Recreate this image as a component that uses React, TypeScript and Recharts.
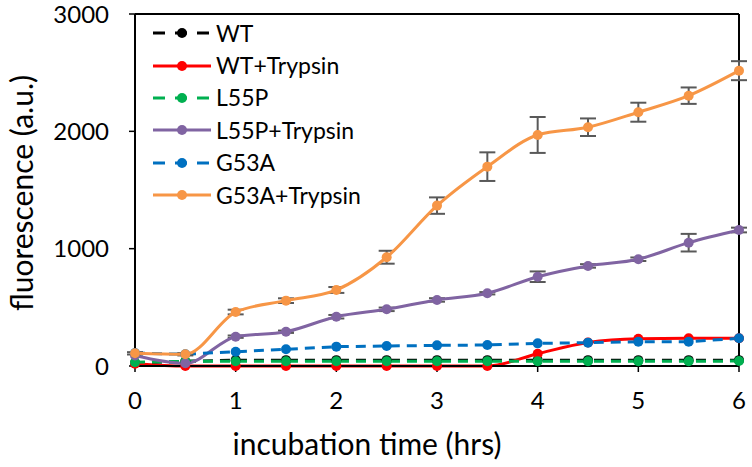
import React from 'react';
import { LineChart, Line, XAxis, YAxis, ErrorBar, ReferenceLine, Legend, Label } from 'recharts';

const times = [0, 0.5, 1, 1.5, 2, 2.5, 3, 3.5, 4, 4.5, 5, 5.5, 6];
const wt = [25, 40, 50, 50, 50, 50, 50, 50, 50, 50, 50, 50, 50];
const wtTrypsin = [20, 0, 0, 0, 0, 0, 0, 0, 105, 200, 232, 236, 236];
const l55p = [32, 40, 40, 40, 40, 40, 40, 40, 40, 40, 40, 40, 42];
const l55pTrypsin = [90, 23, 250, 292, 420, 483, 563, 620, 761, 853, 910, 1051, 1159];
const l55pTrypsinErr = [0, 0, 10, 10, 15, 15, 15, 10, 45, 15, 15, 75, 20];
const g53a = [110, 100, 122, 142, 165, 170, 176, 179, 193, 199, 207, 207, 236];
const g53aTrypsin = [108, 100, 460, 557, 648, 927, 1367, 1699, 1969, 2035, 2163, 2304, 2517];
const g53aTrypsinErr = [10, 10, 20, 20, 25, 55, 70, 122, 153, 75, 81, 70, 81];
const xTicks = [0, 1, 2, 3, 4, 5, 6];
const yTicks = [0, 1000, 2000, 3000];

const data = times.map((t, i) => ({
  t,
  wt: wt[i],
  wtT: wtTrypsin[i],
  l55p: l55p[i],
  l55pT: l55pTrypsin[i],
  l55pTErr: l55pTrypsinErr[i],
  g53a: g53a[i],
  g53aT: g53aTrypsin[i],
  g53aTErr: g53aTrypsinErr[i],
}));

const SERIES = [
  { key: 'wt', name: 'WT', color: '#000000', dash: true },
  { key: 'wtT', name: 'WT+Trypsin', color: '#ff0000', dash: false },
  { key: 'l55p', name: 'L55P', color: '#00b050', dash: true },
  { key: 'l55pT', name: 'L55P+Trypsin', color: '#8064a2', dash: false },
  { key: 'g53a', name: 'G53A', color: '#0070c0', dash: true },
  { key: 'g53aT', name: 'G53A+Trypsin', color: '#f79646', dash: false },
];

const FONT = 'Lato, "Open Sans", sans-serif';

const LegendContent = () => (
  <div style={{ fontFamily: FONT, fontSize: 23, color: '#000' }}>
    {SERIES.map((s) => (
      <div key={s.key} style={{ display: 'flex', alignItems: 'center', height: 32.4 }}>
        <svg width={58} height={12} style={{ display: 'block' }}>
          <line x1={0} y1={6} x2={58} y2={6} stroke={s.color} strokeWidth={3}
            strokeDasharray={s.dash ? '12 10' : undefined} />
          <circle cx={29} cy={6} r={5} fill={s.color} />
        </svg>
        <span style={{ marginLeft: 5, lineHeight: 1 }}>{s.name}</span>
      </div>
    ))}
  </div>
);

export default function App() {
  return (
    <div style={{ position: 'absolute', left: 0, top: 0, background: '#fff' }}>
      <LineChart width={752} height={467} data={data} margin={{ top: 14, right: 13, left: 0, bottom: 0 }}>
        <XAxis
          dataKey="t"
          type="number"
          domain={[0, 6]}
          ticks={xTicks}
          height={101}
          tickSize={6}
          tickMargin={20}
          stroke="#000"
          strokeWidth={2}
          tick={{ fill: '#000', fontFamily: FONT, fontSize: 24 }}
          tickLine={{ stroke: '#000', strokeWidth: 1.5 }}
        >
          <Label
            content={({ viewBox }: any) => (
              <text x={viewBox.x + viewBox.width / 2 - 70} y={viewBox.y + 89} textAnchor="middle"
                fontFamily={FONT} fontSize={30} fill="#000">incubation time (hrs)</text>
            )}
          />
        </XAxis>
        <YAxis
          type="number"
          domain={[0, 3000]}
          ticks={yTicks}
          width={135}
          tickSize={6}
          tickMargin={20}
          stroke="#000"
          strokeWidth={2}
          tick={{ fill: '#000', fontFamily: FONT, fontSize: 24 }}
          tickLine={{ stroke: '#000', strokeWidth: 1.5 }}
        >
          <Label
            content={({ viewBox }: any) => {
              const cx = viewBox.x + 33;
              const cy = viewBox.y + viewBox.height / 2 + 3;
              return (
                <text x={cx} y={cy} transform={`rotate(-90 ${cx} ${cy})`} textAnchor="middle"
                  fontFamily={FONT} fontSize={30} fill="#000">fluorescence (a.u.)</text>
              );
            }}
          />
        </YAxis>
        <ReferenceLine y={3000} stroke="#000" strokeWidth={2} ifOverflow="visible" />
        <ReferenceLine x={6} stroke="#000" strokeWidth={2} ifOverflow="visible" />
        <Legend
          layout="vertical"
          verticalAlign="middle"
          align="center"
          content={<LegendContent />}
          wrapperStyle={{ position: 'absolute', left: 153, top: 17, width: 220 }}
        />
        {SERIES.map((s) => (
          <Line
            key={s.key}
            dataKey={s.key}
            name={s.name}
            type={s.dash ? 'linear' : 'monotone'}
            stroke={s.color}
            strokeWidth={3}
            strokeDasharray={s.dash ? '10 7' : undefined}
            dot={{ r: 5, fill: s.color, stroke: 'none', strokeDasharray: '' }}
            activeDot={false}
            isAnimationActive={false}
          >
            {s.key === 'l55pT' && (
              <ErrorBar dataKey="l55pTErr" direction="y" width={8} stroke="#595959" strokeWidth={2} />
            )}
            {s.key === 'g53aT' && (
              <ErrorBar dataKey="g53aTErr" direction="y" width={8} stroke="#595959" strokeWidth={2} />
            )}
          </Line>
        ))}
      </LineChart>
    </div>
  );
}
